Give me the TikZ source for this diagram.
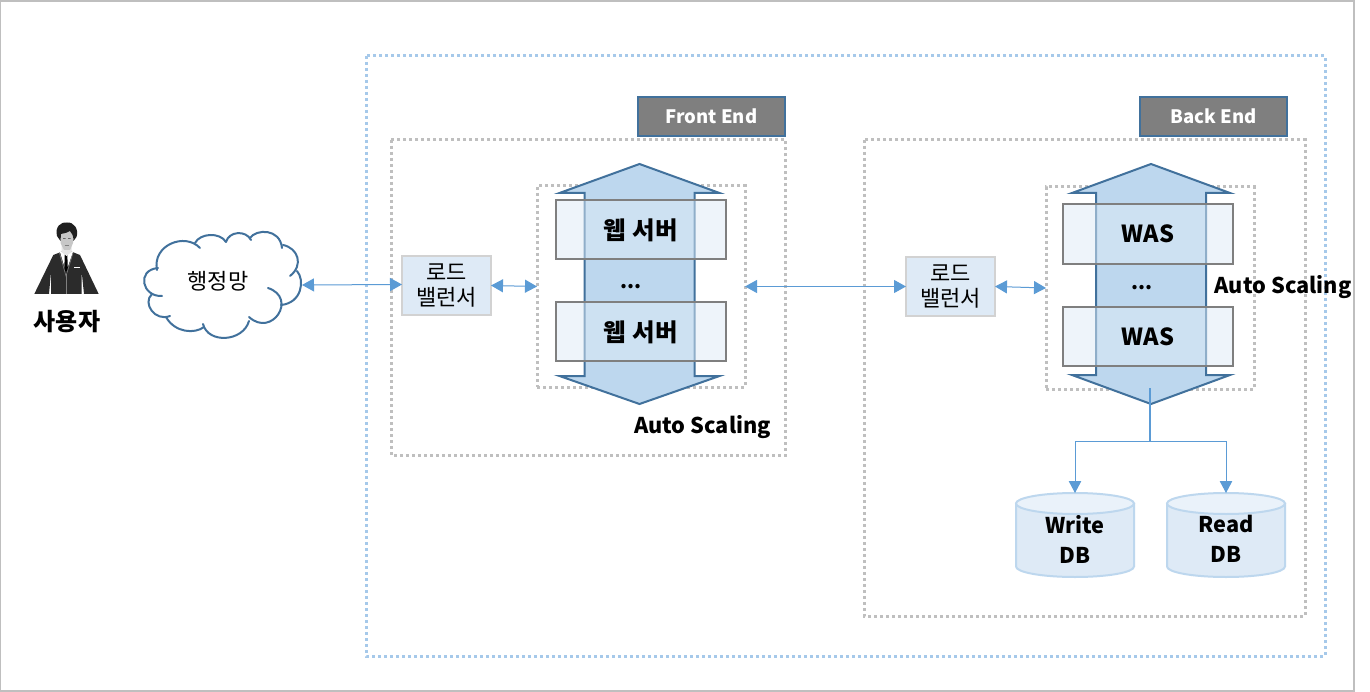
\documentclass[tikz,border=0pt]{standalone}
\usepackage{fontspec}
\setmainfont{Noto Sans CJK KR}
\usetikzlibrary{arrows.meta}
\definecolor{framegray}{HTML}{BFBFBF}
\definecolor{dotblue}{HTML}{A6C9EA}
\definecolor{dotgray}{HTML}{BFBFBF}
\definecolor{deepblue}{HTML}{41719C}
\definecolor{arrowfill}{HTML}{BDD7EE}
\definecolor{boxfill}{HTML}{DEEBF7}
\definecolor{lbfill}{HTML}{DEEAF6}
\definecolor{connblue}{HTML}{5B9BD5}
\definecolor{dbtop}{HTML}{EAF2FA}
\definecolor{labelgray}{HTML}{7F7F7F}
\definecolor{suit}{HTML}{2B2B2B}
\tikzset{
  areabox/.style={draw=dotgray,line width=3pt,dash pattern=on 3pt off 3pt,line cap=butt},
  zonebox/.style={draw=dotblue,line width=3pt,dash pattern=on 3pt off 3pt,line cap=butt},
  tagbox/.style={draw=deepblue,line width=2pt,fill=labelgray,text=white,font=\fontsize{18.5}{24}\selectfont\bfseries,inner sep=0pt,outer sep=0pt,minimum width=147pt,minimum height=39pt},
  scalearrow/.style={draw=deepblue,line width=2pt,fill=arrowfill,line join=miter},
  srvbox/.style={draw=labelgray,line width=2pt,fill=boxfill,fill opacity=.5,text opacity=1,font=\fontsize{23.5}{28}\selectfont\bfseries,inner sep=0pt,outer sep=0pt,minimum width=170pt},
  srvtxt/.style={inner sep=0pt,outer sep=0pt,font=\fontsize{24.5}{28}\selectfont\bfseries},
  lbbox/.style={draw=framegray!70,line width=2pt,fill=lbfill,font=\fontsize{22}{25}\selectfont,align=center,inner sep=0pt,outer sep=0pt,minimum width=89pt,minimum height=59pt},
  ghost/.style={inner sep=0pt,outer sep=0pt},
  lbl/.style={font=\fontsize{21.7}{26}\selectfont\bfseries,inner sep=0pt},
  conn/.style={draw=connblue,line width=1pt,{Triangle[length=12pt,width=13pt]}-{Triangle[length=12pt,width=13pt]}},
  connone/.style={draw=connblue,line width=.9pt,-{Triangle[length=12pt,width=12.5pt]}},
  connplain/.style={draw=connblue,line width=1.1pt},
  cloudline/.style={draw=deepblue,line width=2pt,line cap=round},
  dbshape/.style={draw=arrowfill,line width=2pt,fill=lbfill},
  dbtxt/.style={ghost,align=center,font=\fontsize{21.7}{30}\selectfont\bfseries,minimum width=118pt,minimum height=84pt}
}
\newcommand{\dbcyl}[1]{%
  \path[dbshape] (#1-59,503.5) -- (#1-59,566.5) .. controls (#1-59,572.5) and (#1-32,577) .. (#1,577) .. controls (#1+32,577) and (#1+59,572.5) .. (#1+59,566.5) -- (#1+59,503.5) -- cycle;
  \path[dbshape,fill=dbtop] (#1,503.5) ellipse [x radius=59,y radius=10.5];
}
\newcommand{\scalearr}[7]{% cx, top tip, top base, bottom base, bottom tip, head half, shaft half
  \path[scalearrow] (#1,#2) -- (#1+#6,#3) -- (#1+#7,#3) -- (#1+#7,#4) -- (#1+#6,#4) -- (#1,#5) -- (#1-#6,#4) -- (#1-#7,#4) -- (#1-#7,#3) -- (#1-#6,#3) -- cycle;
}
\begin{document}
\begin{tikzpicture}[x=1pt,y=-1pt]
\useasboundingbox (0,0) rectangle (1370,692);
\fill[white] (0,0) rectangle (1370,692);
\draw[framegray,line width=1.5pt] (0.5,0.8) rectangle (1354,691);

% areas
\draw[zonebox] (366,56) rectangle (1325,656);
\draw[areabox] (391,140) rectangle (785.5,455);
\draw[areabox] (864,140) rectangle (1305,616);
\node[tagbox] (fronttag) at (711.5,116.5) {Front End};
\node[tagbox] (backtag) at (1213.5,116.5) {Back End};

% inner dotted groups (named for the connectors)
\node[ghost,areabox,minimum width=208pt,minimum height=201pt] (fegroup) at (641,286.5) {};
\node[ghost,areabox,minimum width=208pt,minimum height=202pt] (begroup) at (1150,288) {};

% double arrows
\scalearr{639.5}{164}{193}{376}{404}{80}{55}
\scalearr{1151}{164}{193}{375}{404}{79}{55}

% servers
\node[srvbox,minimum height=59pt] (web1) at (641,229.5) {};
\node[srvbox,minimum height=59pt] (web2) at (641,331.5) {};
\node[srvtxt] (web1txt) at (640.5,230.5) {웹\hspace{7pt}서버};
\node[srvtxt] (web2txt) at (640.5,332.5) {웹\hspace{7pt}서버};
\node[srvbox,minimum height=60pt] (was1) at (1148,234) {WAS};
\node[srvbox,minimum height=59pt] (was2) at (1148,336.5) {WAS};
\node[ghost,anchor=base,font=\fontsize{20}{24}\selectfont\bfseries] (fedots) at (631,289) {...};
\node[ghost,anchor=base,font=\fontsize{20}{24}\selectfont\bfseries] (bedots) at (1142,290) {...};
\node[lbl] (asfe) at (702.5,427) {Auto Scaling};
\node[lbl] (asbe) at (1283,287) {Auto Scaling};

% load balancers
\node[lbbox] (lbf) at (446.5,285.5) {로드\\밸런서};
\node[lbbox] (lbb) at (950.5,286.5) {로드\\밸런서};

% user
\fill[suit] (34.3,294) -- (53.3,255) -- (61.7,251.7) -- (71.7,251.7) -- (80,255) -- (98.7,294) -- (84,294) -- (81.7,272) -- (81.7,294) -- (51,294) -- (51,272) -- (49,294) -- cycle;
\fill[white] (60,252) -- (66,272) -- (73,252) -- cycle;
\fill[black] (64.8,254) -- (67.3,254) -- (67.8,268) -- (66,273) -- (64.3,268) -- cycle;
\draw[gray,line width=.6pt] (59.5,253) -- (66,276) -- (73,253);
\draw[gray,line width=.7pt] (66,274) -- (66,294);
\draw[white,line width=1pt] (74,268) -- (80,268);
\fill[black!10] (61.5,243) -- (71.5,243) -- (71.5,252) -- (66.5,256) -- (61.5,252) -- cycle;
\fill[black!22] (60.5,230) -- (73,230) -- (73,243) -- (70,250) -- (64,250) -- (60.5,243) -- cycle;
\fill[black!88] (57,236) .. controls (55,227) and (60,222) .. (67,222.5) .. controls (74,222) and (79,229) .. (76.5,237) -- (73.5,241) .. controls (73.5,236) and (72,233) .. (70,231) .. controls (66,233.5) and (62,233.5) .. (61,234) -- (60.5,241) -- cycle;
\fill[black!60] (63,238.2) rectangle (65.5,239) (68,238.2) rectangle (70.5,239);
\draw[black!50,line width=.5pt] (64.5,245) -- (69,245);
\node[lbl,font=\fontsize{24}{28}\selectfont\bfseries] (user) at (67,322) {사용자};

% cloud
\path[fill=white] (157,268) .. controls (152,245) and (185,232) .. (195,243) .. controls (200,233) and (220,232) .. (226,242) .. controls (229,231) and (246,230) .. (250,238) .. controls (256,229) and (280,228) .. (283,245) .. controls (298,248) and (304,265) .. (297,271) .. controls (305,280) and (302,303) .. (281,305) .. controls (285,325) and (260,330) .. (249,321) .. controls (243,342) and (208,344) .. (203,327) .. controls (195,334) and (175,333) .. (166,317) .. controls (155,322) and (142,303) .. (152,295) .. controls (136,280) and (145,265) .. (157,268) -- cycle;
\draw[cloudline] (162,296) .. controls (142,297) and (136,270) .. (158,268);
\draw[cloudline] (157,270) .. controls (152,245) and (185,232) .. (200,248);
\draw[cloudline] (195,243) .. controls (200,233) and (220,232) .. (226,242);
\draw[cloudline] (226,242) .. controls (229,231) and (246,230) .. (251,240);
\draw[cloudline] (250,238) .. controls (256,229) and (280,228) .. (282,248);
\draw[cloudline] (283,245) .. controls (298,248) and (304,265) .. (290,276);
\draw[cloudline] (297,271) .. controls (305,280) and (302,303) .. (281,305);
\draw[cloudline] (268,288) .. controls (298,298) and (272,338) .. (249,317);
\draw[cloudline] (249,321) .. controls (243,342) and (208,344) .. (203,324);
\draw[cloudline] (204,327) .. controls (195,334) and (175,333) .. (166,317);
\draw[cloudline] (170,316) .. controls (155,322) and (142,303) .. (152,294);
\node[ghost,minimum width=168pt,minimum height=100pt] (cloud) at (218,285) {};
\node[ghost,font=\fontsize{22}{24}\selectfont] (cloudtext) at (218,281) {행정망};

% databases
\dbcyl{1075}
\dbcyl{1226}
\node[dbtxt] (writedb) at (1075,539) {Write\\DB};
\node[dbtxt] (readdb) at (1226,539) {Read\\DB};
\coordinate (writetop) at (1075,493);
\coordinate (readtop) at (1226,493);

% connectors
\path[conn] (cloud.east) -- ([yshift=1pt]lbf.west);
\path[conn] (lbf.east) -- (fegroup.west);
\path[conn] (fegroup.east) -- (lbb.west);
\path[conn] (lbb.east) -- (begroup.west);
\coordinate (dbfoot) at (1150,388);
\coordinate (dbsplit) at (1150,441);
\path[connplain] (dbfoot) -- (dbsplit);
\path[connone] (dbsplit) -| (writetop);
\path[connone] (dbsplit) -| (readtop);
\end{tikzpicture}
\end{document}
